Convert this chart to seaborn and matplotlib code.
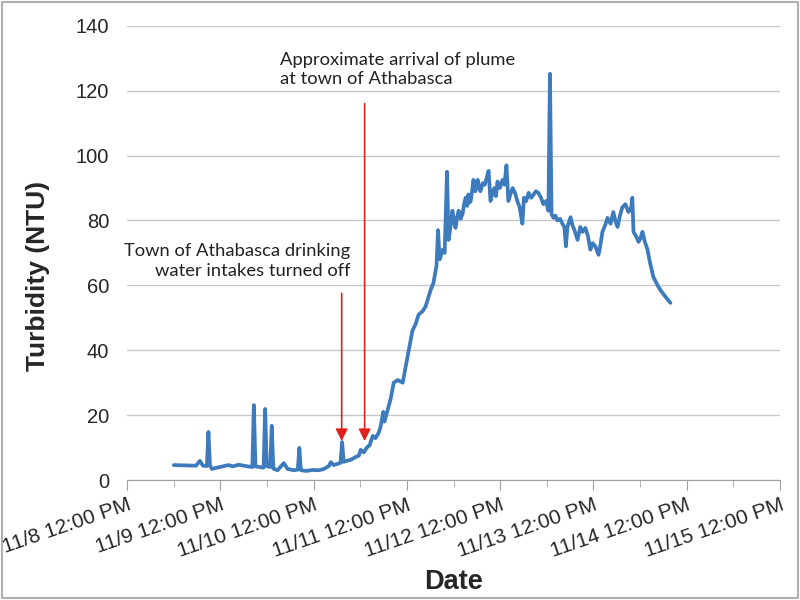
import matplotlib
matplotlib.use("Agg")
import matplotlib.pyplot as plt
import matplotlib.dates as mdates
from matplotlib.ticker import FuncFormatter
import pandas as pd
import seaborn as sns

# hours after 11/9 00:00 and turbidity
hours = [0.0, 3.1, 5.7, 6.7, 7.5, 8.5, 8.9, 9.3, 9.8, 11.1, 12.6, 14.1, 15.2, 16.7,
         18.5, 20.2, 20.6, 21.0, 22.1, 23.1, 23.5, 23.9, 24.8, 25.2, 25.6, 26.7,
         28.3, 29.3, 30.9, 31.9, 32.3, 32.7, 34.2, 35.7, 37.3, 38.6, 39.9, 40.4,
         41.1, 42.2, 42.9, 43.3, 43.7, 44.5, 45.5, 46.8, 47.6, 48.1, 48.9, 49.6,
         50.4, 51.2, 51.9, 52.7, 53.2, 53.9, 54.2, 54.8, 55.8, 56.6, 57.6, 58.9,
         59.6, 60.9, 61.4, 62.2, 63.0, 64.0, 64.8, 66.1, 66.8, 67.6, 68.0, 68.4,
         69.2, 69.7, 70.3, 70.7, 71.2, 71.7, 72.1, 72.5, 72.9, 73.3, 73.8, 74.3,
         74.7, 75.1, 75.5, 75.8, 76.1, 76.4, 76.8, 77.1, 77.6, 78.2, 78.6, 78.9,
         79.5, 80.0, 80.5, 81.0, 81.5, 82.0, 82.5, 82.9, 83.3, 83.9, 84.6, 85.1,
         85.6, 86.1, 86.6, 87.2, 87.8, 88.4, 89.0, 89.7, 90.1, 90.7, 91.3, 92.0,
         92.6, 93.2, 93.8, 94.5, 95.1, 95.8, 96.4, 96.8, 97.2, 97.7, 98.2, 98.7,
         99.4, 100.0, 100.5, 100.9, 101.3, 102.1, 102.6, 103.1, 103.9, 104.6,
         105.2, 105.9, 106.6, 107.2, 107.8, 108.5, 109.3, 109.8, 110.3, 111.0,
         111.6, 112.4, 113.1, 113.6, 114.2, 114.8, 115.4, 116.2, 117.0, 117.7,
         118.0, 118.3, 119.0, 119.6, 120.1, 120.6, 121.2, 121.9, 122.4, 123.4,
         124.5, 125.2, 126.5, 127.8]
turbidity = [4.6, 4.5, 4.4, 5.9, 4.4, 4.3, 14.8, 4.5, 3.4, 3.8, 4.2, 4.6, 4.2, 4.7,
             4.3, 4.0, 23.1, 4.2, 4.0, 3.8, 21.9, 4.3, 4.0, 16.7, 3.5, 3.0,
             5.2, 3.4, 3.0, 3.2, 9.9, 3.0, 2.8, 3.1, 3.0, 3.4, 4.3, 5.5,
             4.6, 5.0, 5.3, 11.7, 5.6, 5.9, 6.2, 7.1, 7.5, 9.3, 8.5, 9.9,
             10.8, 13.6, 12.9, 14.5, 16.4, 21.0, 18.0, 20.6, 25.0, 30.0, 30.8, 30.0,
             34.5, 43.0, 46.0, 48.0, 51.0, 52.0, 53.5, 58.6, 60.7, 66.0, 77.0, 68.0,
             71.0, 70.0, 95.0, 74.0, 78.0, 83.0, 79.5, 77.7, 81.0, 83.0, 80.5, 82.0,
             85.0, 87.0, 84.5, 88.0, 85.5, 86.0, 89.5, 92.5, 89.0, 92.5, 90.0, 89.0,
             91.5, 91.0, 93.0, 95.3, 86.0, 88.5, 90.0, 87.5, 92.0, 90.0, 92.5, 91.0,
             97.0, 86.0, 88.0, 90.0, 88.5, 86.0, 84.0, 79.0, 87.0, 86.0, 88.5, 87.0,
             88.0, 89.0, 88.5, 87.0, 85.0, 86.0, 83.0, 125.2, 82.0, 80.8, 81.5, 80.0,
             80.5, 79.0, 78.0, 72.0, 78.0, 81.0, 78.5, 77.0, 74.0, 78.0,
             76.5, 77.7, 75.0, 71.0, 73.0, 72.0, 69.4, 72.5, 76.5, 78.5,
             80.8, 79.0, 82.6, 80.0, 78.0, 81.5, 84.0, 85.0, 82.6, 84.0,
             87.0, 76.5, 75.0, 73.4, 74.5, 76.5, 73.5, 71.0, 67.8, 62.6,
             60.0, 58.6, 56.5, 54.6]

start = pd.Timestamp("2013-11-09 00:00")
df = pd.DataFrame({
    "Date": start + pd.to_timedelta(hours, unit="h"),
    "Turbidity": turbidity,
})

sns.set_style("white")
plt.rcParams["font.family"] = ["Liberation Sans", "DejaVu Sans"]

fig = plt.figure(figsize=(8, 6), dpi=100)
ax = fig.add_axes([0.159, 0.2, 0.816, 0.757])

sns.lineplot(data=df, x="Date", y="Turbidity", color="#3d7bbd", linewidth=2.7, ax=ax)

ax.set_ylim(0, 140)
ax.set_yticks(range(0, 141, 20))
ax.set_xlim(pd.Timestamp("2013-11-08 12:00"), pd.Timestamp("2013-11-15 12:00"))
ax.xaxis.set_major_locator(mdates.HourLocator(byhour=[12]))
ax.xaxis.set_minor_locator(mdates.HourLocator(byhour=[0]))
ax.xaxis.set_major_formatter(FuncFormatter(
    lambda v, pos: "{d.month}/{d.day} {d:%I:%M %p}".format(d=mdates.num2date(v))))

ax.grid(axis="y", color="#c8c8c8", linewidth=1)
for s in ["top", "right", "left"]:
    ax.spines[s].set_visible(False)
ax.spines["bottom"].set_color("#a0a0a0")
ax.tick_params(axis="x", which="major", length=7, color="#a0a0a0", direction="out",
               labelsize=15, pad=4, bottom=True)
ax.tick_params(axis="x", which="minor", length=5, color="#a0a0a0", direction="out", bottom=True)
ax.tick_params(axis="y", length=0, labelsize=14.5, pad=13)
for lbl in ax.get_xticklabels():
    lbl.set_rotation(19)
    lbl.set_ha("right")
    lbl.set_va("top")
    lbl.set_rotation_mode("anchor")

ax.set_xlabel("Date", fontsize=19.5, fontweight="bold")
ax.xaxis.set_label_coords(0.5, -0.196)
ax.set_ylabel("Turbidity (NTU)", fontsize=19, fontweight="bold")
ax.yaxis.set_label_coords(-0.119, 0.45)

# annotations
note_font = ["Lato", "DejaVu Sans"]
ax.annotate("", xy=(start + pd.Timedelta(hours=43.2), 12.0),
            xytext=(start + pd.Timedelta(hours=43.2), 57.5),
            arrowprops=dict(arrowstyle="-|>", color="#e0201b", lw=1.2,
                            mutation_scale=18, shrinkA=0, shrinkB=0))
ax.annotate("", xy=(start + pd.Timedelta(hours=49.1), 12.0),
            xytext=(start + pd.Timedelta(hours=49.1), 116),
            arrowprops=dict(arrowstyle="-|>", color="#e0201b", lw=1.2,
                            mutation_scale=18, shrinkA=0, shrinkB=0))
ax.text(start + pd.Timedelta(hours=45.4), 67.5, "Town of Athabasca drinking\nwater intakes turned off",
        ha="right", va="center", fontsize=13.2, family=note_font, color="#222222",
        linespacing=1.25)
ax.text(start + pd.Timedelta(hours=27.3), 126.5, "Approximate arrival of plume\nat town of Athabasca",
        ha="left", va="center", fontsize=13.2, family=note_font, color="#222222",
        linespacing=1.25)

fig.patches.append(plt.Rectangle((0.002, 0.004), 0.995, 0.993, transform=fig.transFigure,
                                 fill=False, edgecolor="#b0b0b0", linewidth=1.5))

fig.savefig("out.png", dpi=100)
